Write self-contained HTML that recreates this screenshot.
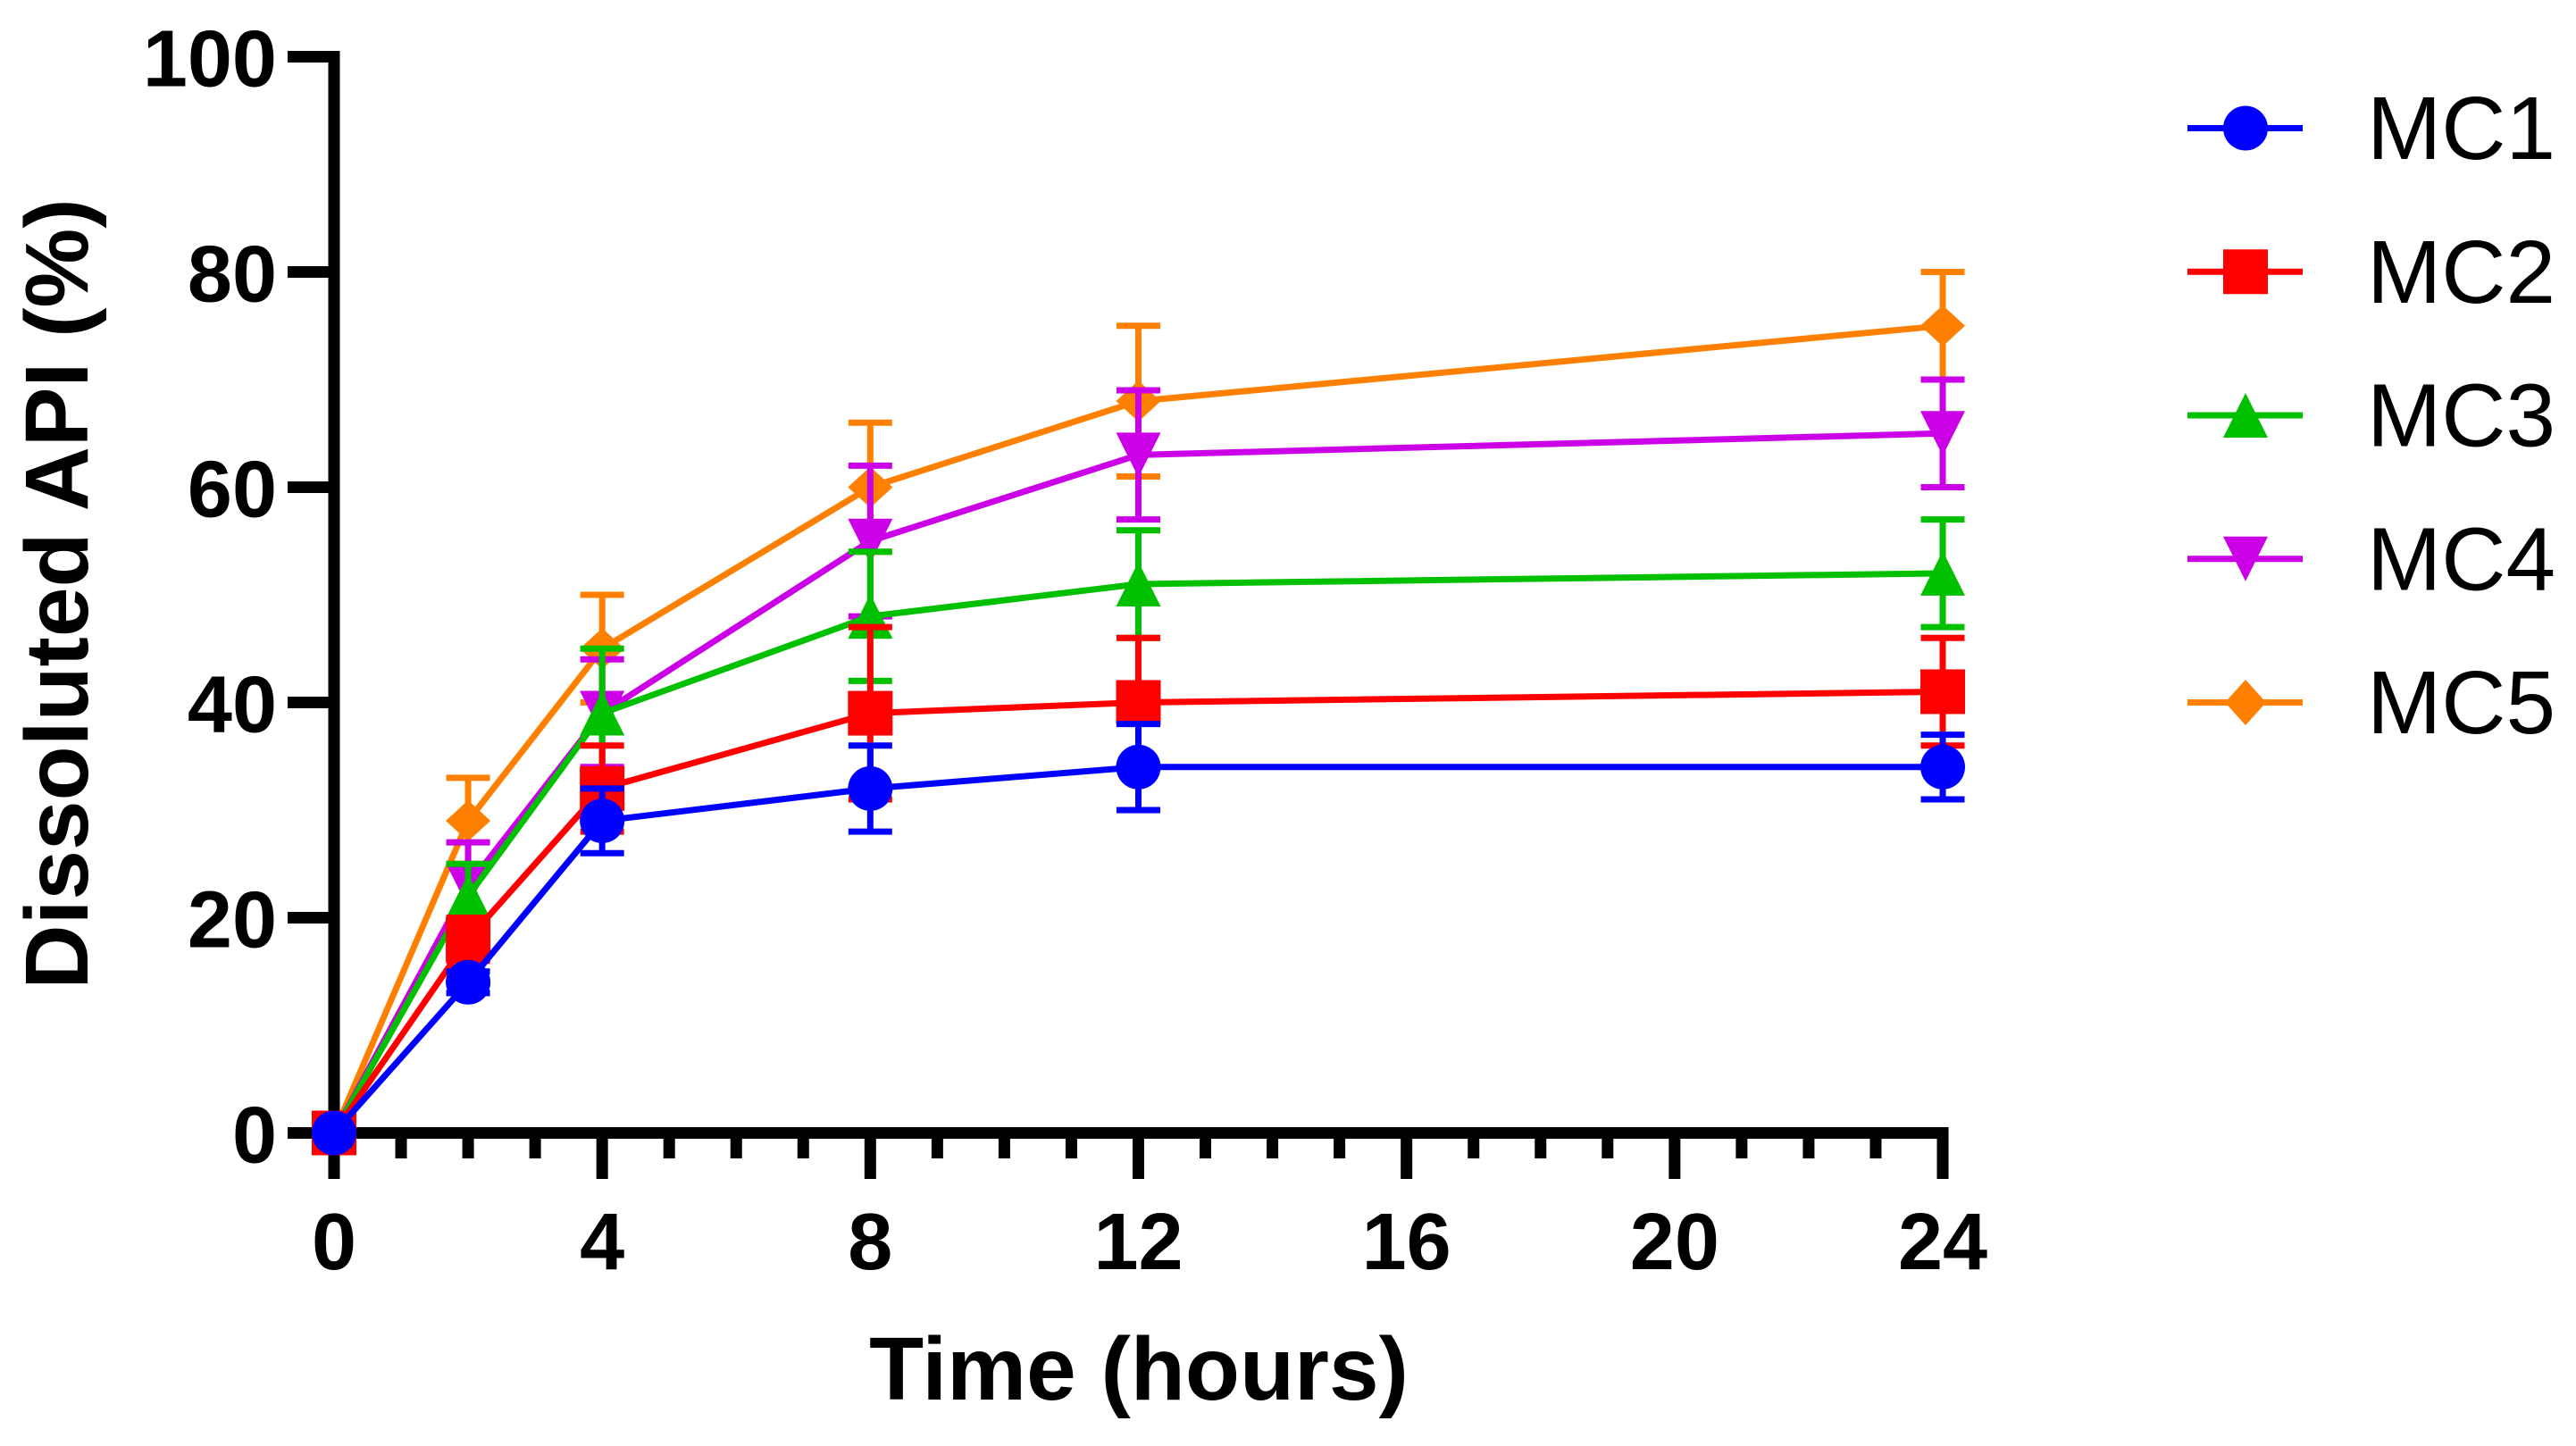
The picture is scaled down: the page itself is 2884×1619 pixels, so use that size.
<!DOCTYPE html>
<html lang="en">
<head>
<meta charset="utf-8">
<title>Dissolved API over time</title>
<style>
  html, body { margin: 0; padding: 0; background: #ffffff; }
  #chart { display: block; }
  text { font-family: "Liberation Sans", Arial, sans-serif; fill: #000000; }
  .tick-label { font-size: 90px; font-weight: 700; }
  .axis-title { font-size: 100px; font-weight: 700; }
  .legend-label { font-size: 100px; font-weight: 400; }
</style>
</head>
<body>
<svg id="chart" xmlns="http://www.w3.org/2000/svg" width="2884" height="1619" viewBox="0 0 2884 1619">
  <rect x="0" y="0" width="2884" height="1619" fill="#ffffff"></rect>
  <g id="axes"></g>
  <g id="series"></g>
  <g id="legend"></g>
  <text class="axis-title" x="1275" y="1567" text-anchor="middle">Time (hours)</text>
  <text class="axis-title" transform="translate(98 665) rotate(-90)" text-anchor="middle">Dissoluted API (%)</text>
</svg>
<script>
// ---- chart data ----
const timePoints = [0, 2, 4, 8, 12, 24];
const seriesNames = ['MC1', 'MC2', 'MC3', 'MC4', 'MC5'];
const mc1Values = [0, 14, 29, 32, 34, 34];
const mc1Errors = [0, 1, 3, 4, 4, 3];
const mc2Values = [0, 18, 32, 39, 40, 41];
const mc2Errors = [0, 2, 4, 8, 6, 5];
const mc3Values = [0, 22, 39, 48, 51, 52];
const mc3Errors = [0, 3, 6, 6, 5, 5];
const mc4Values = [0, 23, 39, 55, 63, 65];
const mc4Errors = [0, 4, 5, 7, 6, 5];
const mc5Values = [0, 29, 45, 60, 68, 75];
const mc5Errors = [0, 4, 5, 6, 7, 5];
const xTickLabels = [0, 4, 8, 12, 16, 20, 24];
const yTickLabels = [0, 20, 40, 60, 80, 100];
const xMinorTickValues = [1, 2, 3, 5, 6, 7, 9, 10, 11, 13, 14, 15, 17, 18, 19, 21, 22, 23];

// ---- styling and scales ----
const allValues = [mc1Values, mc2Values, mc3Values, mc4Values, mc5Values];
const allErrors = [mc1Errors, mc2Errors, mc3Errors, mc4Errors, mc5Errors];
const seriesColors = ['#0000ff', '#ff0000', '#00c000', '#cc00e6', '#ff8000'];
const seriesShapes = ['circle', 'square', 'triangle-up', 'triangle-down', 'diamond'];
const NS = 'http://www.w3.org/2000/svg';
const X0 = 374, X24 = 2175, Y0 = 1268.5, Y100 = 63.5;
const AXIS_W = 13, LINE_W = 7, CAP_HALF = 24.5, MARKER_R = 25;
function sx(v) { return X0 + (v / 24) * (X24 - X0); }
function sy(v) { return Y0 - (v / 100) * (Y0 - Y100); }

function make(tag, parent, attrs) {
  const el = document.createElementNS(NS, tag);
  Object.keys(attrs).forEach(function (k) { el.setAttribute(k, attrs[k]); });
  parent.appendChild(el);
  return el;
}

function drawMarker(parent, shape, cx, cy, color, diamondHalfW, diamondHalfH) {
  const r = MARKER_R;
  if (shape === 'circle') {
    return make('circle', parent, { cx: cx, cy: cy, r: r, fill: color });
  }
  if (shape === 'square') {
    return make('rect', parent, { x: cx - r, y: cy - r, width: 2 * r, height: 2 * r, fill: color });
  }
  let pts;
  if (shape === 'triangle-up') {
    pts = [[cx, cy - r], [cx + r, cy + r], [cx - r, cy + r]];
  } else if (shape === 'triangle-down') {
    pts = [[cx - r, cy - r], [cx + r, cy - r], [cx, cy + r]];
  } else {
    pts = [[cx, cy - diamondHalfH], [cx + diamondHalfW, cy], [cx, cy + diamondHalfH], [cx - diamondHalfW, cy]];
  }
  return make('polygon', parent, { points: pts.map(function (p) { return p.join(','); }).join(' '), fill: color });
}

// ---- axes ----
const axes = document.getElementById('axes');
const yAxisLine = make('rect', axes, { x: X0 - AXIS_W / 2, y: Y100 - AXIS_W / 2, width: AXIS_W, height: Y0 - Y100 + AXIS_W, fill: '#000' });


const xAxisLine = make('rect', axes, { x: X0 - AXIS_W / 2, y: Y0 - AXIS_W / 2, width: X24 - X0 + AXIS_W, height: AXIS_W, fill: '#000' });



yTickLabels.forEach(function (v) {
  const tick = make('rect', axes, { x: 322, y: sy(v) - AXIS_W / 2, width: X0 - 322, height: AXIS_W, fill: '#000' });
  
  
  const label = make('text', axes, { class: 'tick-label', x: 310, y: sy(v) + 33, 'text-anchor': 'end' });
  label.textContent = String(v);
  
  
});

xTickLabels.forEach(function (v) {
  const tick = make('rect', axes, { x: sx(v) - AXIS_W / 2, y: Y0, width: AXIS_W, height: 1320 - Y0, fill: '#000' });
  
  
  const label = make('text', axes, { class: 'tick-label', x: sx(v), y: 1421, 'text-anchor': 'middle' });
  label.textContent = String(v);
  
  
});

xMinorTickValues.forEach(function (v) {
  const tick = make('rect', axes, { x: sx(v) - AXIS_W / 2, y: Y0, width: AXIS_W, height: 1297 - Y0, fill: '#000' });
  
  
});

// ---- series: MC5 at the bottom, MC1 on top ----
const seriesRoot = document.getElementById('series');
for (let s = seriesNames.length - 1; s >= 0; s--) {
  const values = allValues[s];
  const errors = allErrors[s];
  const color = seriesColors[s];
  const group = make('g', seriesRoot, {});
  
  

  timePoints.forEach(function (t, i) {
    if (errors[i] > 0) {
      const hi = sy(values[i] + errors[i]);
      const lo = sy(values[i] - errors[i]);
      const cx = sx(t);
      const bar = make('path', group, {
        d: 'M' + cx + ' ' + hi + 'V' + lo + 'M' + (cx - CAP_HALF) + ' ' + hi + 'H' + (cx + CAP_HALF) + 'M' + (cx - CAP_HALF) + ' ' + lo + 'H' + (cx + CAP_HALF),
        stroke: color, 'stroke-width': LINE_W, fill: 'none'
      });
      
      
    }
  });

  const line = make('polyline', group, {
    points: timePoints.map(function (t, i) { return sx(t) + ',' + sy(values[i]); }).join(' '),
    stroke: color, 'stroke-width': LINE_W, fill: 'none', 'stroke-linejoin': 'miter'
  });
  
  

  timePoints.forEach(function (t, i) {
    const marker = drawMarker(group, seriesShapes[s], sx(t), sy(values[i]), color, 25, 23);
    
    
  });
}

// ---- legend ----
const legendRoot = document.getElementById('legend');
seriesNames.forEach(function (name, i) {
  const rowY = 143.5 + i * 160.75;
  const entry = make('g', legendRoot, {});
  
  
  const sample = make('rect', entry, { x: 2449, y: rowY - LINE_W / 2, width: 129, height: LINE_W, fill: seriesColors[i] });
  
  
  const marker = drawMarker(entry, seriesShapes[i], 2514, rowY, seriesColors[i], 23, 25.5);
  
  
  const label = make('text', entry, { class: 'legend-label', x: 2650, y: rowY + 34.5 });
  label.textContent = name;
  
  
});
</script>
</body>
</html>
